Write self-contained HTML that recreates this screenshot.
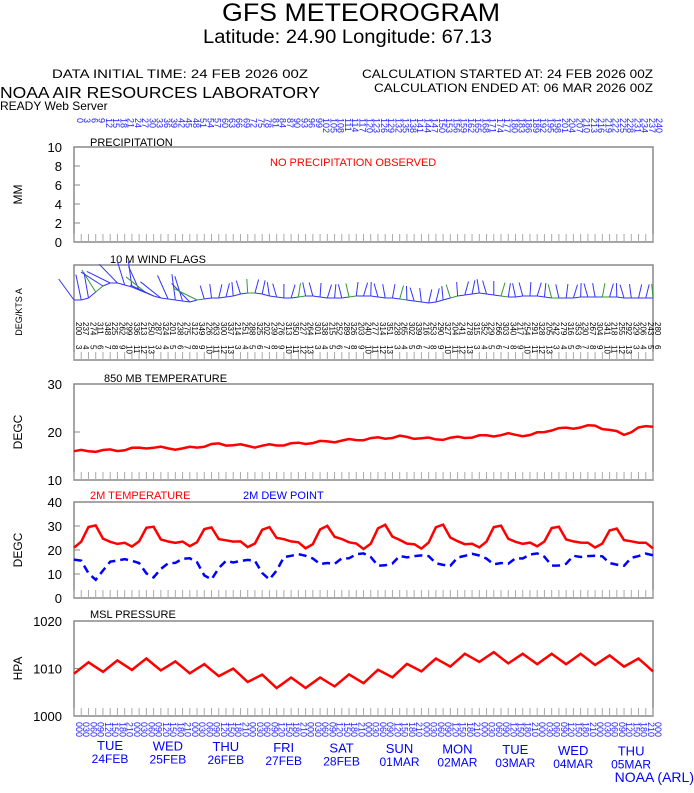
<!DOCTYPE html>
<html><head><meta charset="utf-8"><style>
body{margin:0;background:#fff;width:694px;height:788px;overflow:hidden}
svg{font-family:"Liberation Sans",sans-serif}
</style></head><body>
<svg id="s" width="694" height="788" xmlns="http://www.w3.org/2000/svg">
<text x="222" y="21" font-size="25" textLength="278" lengthAdjust="spacingAndGlyphs">GFS METEOROGRAM</text>
<text x="203" y="43" font-size="19" textLength="289" lengthAdjust="spacingAndGlyphs">Latitude: 24.90 Longitude:  67.13</text>
<text x="52" y="78" font-size="12" textLength="256" lengthAdjust="spacingAndGlyphs">DATA INITIAL TIME: 24 FEB 2026 00Z</text>
<text x="362" y="78" font-size="12" textLength="291" lengthAdjust="spacingAndGlyphs">CALCULATION STARTED AT: 24 FEB 2026 00Z</text>
<text x="374" y="92" font-size="12" textLength="279" lengthAdjust="spacingAndGlyphs">CALCULATION ENDED AT: 06 MAR 2026 00Z</text>
<text x="0" y="98" font-size="16" textLength="320" lengthAdjust="spacingAndGlyphs">NOAA AIR RESOURCES LABORATORY</text>
<text x="0" y="110" font-size="12">READY Web Server</text>
<text x="694" y="782" font-size="14" fill="#00f" text-anchor="end">NOAA (ARL)</text>
<g id="g"></g>
</svg>
<script>
var g=document.getElementById('g'),h='';
var X0=74,X1=653,N=80,dx=(X1-X0)/N;
function X(i){return X0+i*dx}
function box(y0,y1){h+='<rect x="'+X0+'" y="'+y0+'" width="'+(X1-X0)+'" height="'+(y1-y0)+'" fill="none" stroke="#888" stroke-width="1.5"/>';
 for(var i=0;i<=N;i++)h+='<line x1="'+X(i)+'" x2="'+X(i)+'" y1="'+y1+'" y2="'+(y1-8)+'" stroke="#aaa"/>';}
function t(x,y,s,sz,c,a,r){h+='<text x="'+x+'" y="'+y+'" font-size="'+sz+'" fill="'+(c||'#000')+'"'+(a?' text-anchor="'+a+'"':'')+(r?' transform="rotate('+r+' '+x+' '+y+')"':'')+'>'+s+'</text>';}
function yt(y0,y1,vals,lab){for(var k=0;k<vals.length;k++){var y=y1-(y1-y0)*k/(vals.length-1);t(62,y+5,vals[k],13,'#000','end');h+='<line x1="'+X0+'" x2="'+(X0+6)+'" y1="'+y+'" y2="'+y+'" stroke="#888"/>';}
 t(22,(y0+y1)/2,lab,12,'#000','middle',-90);}
function line(a,y0,y1,vmin,vmax,col,dash){var p='';for(var i=0;i<a.length;i++){p+=(i?'L':'M')+X(i).toFixed(1)+' '+(y1-(a[i]-vmin)/(vmax-vmin)*(y1-y0)).toFixed(1);}
 h+='<path d="'+p+'" fill="none" stroke="'+col+'" stroke-width="2.5"'+(dash?' stroke-dasharray="8,5"':'')+'/>';}
for(var i=0;i<=N;i++){t(X(i)+3,118,String(i*3),9,'#22f','start',90);}
box(147,242);yt(147,242,['0','2','4','6','8','10'],'MM');
t(90,146,'PRECIPITATION',11);t(270,166,'NO PRECIPITATION OBSERVED',11,'#f00');
box(265,360);t(110,263,'10 M  WIND FLAGS',11);t(22,312,'DEG/KTS  A',9,'#000','middle',-90);
var by=[300,300,298,292,286,283,283,285,287,290,293,296,298,299,300,301,302,300,299,298,298,297,296,294,293,293,294,296,297,298,298,297,296,296,297,298,298,298,297,296,296,296,297,298,298,299,300,301,302,303,302,300,298,296,295,294,293,294,295,296,297,297,296,296,296,297,298,298,298,298,297,297,297,297,297,297,298,298,298,298,298];
for(var i=0;i<=N;i++){var x=X(i),y=by[i],ang=(i<18?-2.2+Math.sin(i)*0.5:-1.57+Math.sin(i*1.3)*0.3),L=(i<18?26:14);
 var x2=x+Math.cos(ang)*L,y2=y+Math.sin(ang)*L;var c=(i%7==3)?'#393':'#33f';
 h+='<line x1="'+x+'" y1="'+y+'" x2="'+x2.toFixed(1)+'" y2="'+y2.toFixed(1)+'" stroke="'+c+'"/>';
 if(i<N)h+='<line x1="'+x+'" y1="'+y+'" x2="'+X(i+1)+'" y2="'+by[i+1]+'" stroke="'+c+'"/>';
 t(x+2,322,String(200+((i*37)%160)),8,'#000','start',90);t(x+2,345,String(3+(i%11)),8,'#000','start',90);}
box(384,480);yt(384,480,['10','20','30'],'DEGC');t(104,382,'850 MB  TEMPERATURE',11);
var k850=[[0,16],[6,16.2],[10,16.8],[15,16.5],[20,17.5],[25,17],[30,17.5],[35,18],[40,18.5],[45,19],[50,18.5],[55,19],[60,19.5],[63,19.3],[66,20.5],[72,21.3],[76,19.5],[78,20.8],[80,21.3]];
function interp(kk){var a=[];for(var i=0;i<=N;i++){for(var j=0;j<kk.length-1;j++){if(i>=kk[j][0]&&i<=kk[j+1][0]){var f=(i-kk[j][0])/(kk[j+1][0]-kk[j][0]);a.push(kk[j][1]+f*(kk[j+1][1]-kk[j][1]));break;}}}return a;}
var a850=interp(k850);for(var i=0;i<=N;i++)a850[i]+=0.25*Math.sin(i*1.7);
line(a850,384,480,10,30,'#f00');
box(502,598);yt(502,598,['0','10','20','30','40'],'DEGC');
t(90,499,'2M TEMPERATURE',11,'#f00');t(243,499,'2M  DEW POINT',11,'#00f');
var dT=[21,23,29,30,25,24,23,23],dD=[16,15,10,8,12,15,15,16];var T=[],D=[];
for(var i=0;i<=N;i++){var p=i%8;T.push(dT[p]+(i>70?-0.5:0)+0.6*Math.sin(i*0.9));var d=dD[p];if(i>28){d=Math.max(d,12)+2;}D.push(d+0.6*Math.sin(i*1.3));}
line(T,502,598,0,40,'#f00');line(D,502,598,0,40,'#00f',1);
box(621,716);yt(621,716,['1000','1010','1020'],'HPA');t(90,618,'MSL PRESSURE',11);
var kp=[[0,1010],[10,1011],[20,1009.5],[28,1007],[34,1007],[40,1008],[48,1010.5],[56,1012.5],[62,1012],[70,1012],[76,1011.5],[80,1010.5]];
var P=interp(kp);for(var i=0;i<=N;i++)P[i]+=1.1*Math.sin((i-1)*Math.PI/2);
line(P,621,716,1000,1020,'#f00');
for(var i=0;i<=N;i++){t(X(i)+2,722,String((i*3)%24).padStart(2,'0')+'0',9,'#22f','start',90);}
var days=[['TUE','24FEB'],['WED','25FEB'],['THU','26FEB'],['FRI','27FEB'],['SAT','28FEB'],['SUN','01MAR'],['MON','02MAR'],['TUE','03MAR'],['WED','04MAR'],['THU','05MAR']];
for(var k=0;k<10;k++){var x=X(k*8)+36;t(x,750+k*0.6,days[k][0],13,'#00f','middle');t(x,763+k*0.6,days[k][1],12,'#00f','middle');}
g.innerHTML=h;
</script>
</body></html>
